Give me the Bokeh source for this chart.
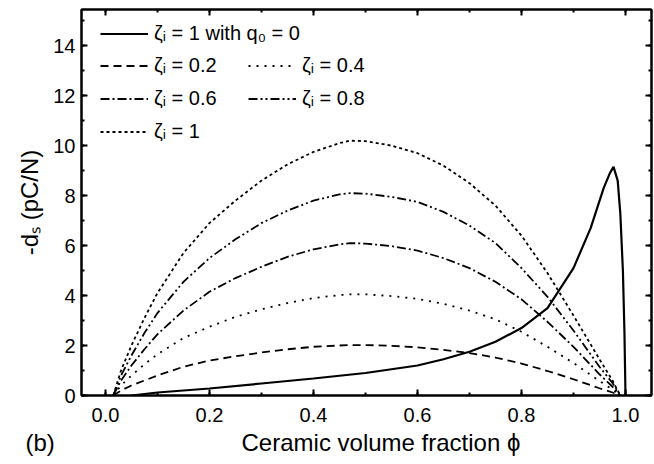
from bokeh.plotting import figure
from bokeh.models import (Range1d, LinearAxis, Legend, LegendItem, Title,
                          FixedTicker, CustomJSTickFormatter)
from bokeh.embed import file_html
from bokeh.resources import INLINE

# ---- data ----
phi = [0.015, 0.03, 0.05, 0.075, 0.1, 0.15, 0.2, 0.25, 0.3, 0.35, 0.4, 0.45,
       0.47, 0.5, 0.55, 0.6, 0.65, 0.7, 0.75, 0.8, 0.85, 0.9, 0.95, 0.975, 0.99]
d_z10 = [0, 1.0, 2.0, 3.1, 4.1, 5.7, 6.9, 7.8, 8.6, 9.25, 9.75, 10.1,
         10.2, 10.18, 10.0, 9.7, 9.2, 8.5, 7.6, 6.4, 4.9, 3.2, 1.45, 0.6, 0]
d_z08 = [0, 0.8, 1.6, 2.5, 3.3, 4.55, 5.5, 6.25, 6.9, 7.4, 7.8, 8.05,
         8.1, 8.08, 7.95, 7.75, 7.35, 6.8, 6.1, 5.1, 3.95, 2.6, 1.15, 0.5, 0]
d_z06 = [0, 0.6, 1.2, 1.85, 2.45, 3.4, 4.15, 4.7, 5.15, 5.55, 5.85, 6.05,
         6.1, 6.08, 5.98, 5.8, 5.5, 5.1, 4.55, 3.85, 2.95, 1.95, 0.85, 0.35, 0]
d_z04 = [0, 0.4, 0.8, 1.25, 1.65, 2.3, 2.75, 3.15, 3.45, 3.7, 3.9, 4.02,
         4.05, 4.05, 3.98, 3.87, 3.67, 3.4, 3.05, 2.55, 1.95, 1.3, 0.58, 0.24, 0]
d_z02 = [0, 0.2, 0.4, 0.6, 0.8, 1.15, 1.4, 1.57, 1.72, 1.85, 1.95, 2.0,
         2.02, 2.02, 1.99, 1.93, 1.83, 1.7, 1.52, 1.28, 0.98, 0.65, 0.29, 0.12, 0]

phi_q0 = [0.05, 0.1, 0.2, 0.3, 0.4, 0.5, 0.6, 0.65, 0.7, 0.75, 0.8, 0.85,
          0.875, 0.9, 0.933, 0.958, 0.97, 0.977, 0.985, 0.99, 0.995, 0.998, 1.0]
d_q0 = [0, 0.12, 0.28, 0.48, 0.68, 0.9, 1.2, 1.45, 1.75, 2.15, 2.7, 3.5,
        4.3, 5.1, 6.7, 8.3, 8.9, 9.15, 8.6, 7.3, 5.0, 2.5, 0]

x_ticks = [0.0, 0.2, 0.4, 0.6, 0.8, 1.0]
y_ticks = [0, 2, 4, 6, 8, 10, 12, 14]

panel_tag = "(b)"
x_title = "Ceramic volume fraction \u03d5"
y_title = "-d\u209b (pC/N)"

FONT = "Liberation Sans"
NB = "\u00a0"

p = figure(width=654, height=464, output_backend="svg", toolbar_location=None,
           x_range=Range1d(-0.046, 1.05), y_range=Range1d(0, 15.45),
           min_border_left=81, min_border_right=3, min_border_top=9,
           min_border_bottom=69)
p.grid.visible = False
p.background_fill_color = "white"
p.border_fill_color = "white"
p.outline_line_color = "black"
p.outline_line_width = 2

r_q0 = p.line(phi_q0, d_q0, line_color="black", line_width=2.2)
r02 = p.line(phi, d_z02, line_color="black", line_width=1.8, line_dash="8 5")
r04 = p.line(phi, d_z04, line_color="black", line_width=1.8, line_dash="2 6")
r06 = p.line(phi, d_z06, line_color="black", line_width=1.8, line_dash="9 3 2 3")
r08 = p.line(phi, d_z08, line_color="black", line_width=1.8, line_dash="9 3 2 3 2 3")
r10 = p.line(phi, d_z10, line_color="black", line_width=1.8, line_dash="3 3")

def style_axis(ax, labels=True):
    ax.axis_line_width = 2
    ax.axis_line_color = "black"
    ax.major_tick_in = 6
    ax.major_tick_out = 0
    ax.minor_tick_in = 3
    ax.minor_tick_out = 0
    ax.major_tick_line_width = 2
    ax.minor_tick_line_width = 2
    ax.major_label_text_font = FONT
    ax.major_label_text_font_size = "20px"
    ax.major_label_text_color = "black"
    ax.axis_label_text_font = FONT
    ax.axis_label_text_font_size = "24px"
    ax.axis_label_text_font_style = "normal"
    ax.axis_label_text_color = "black"
    if not labels:
        ax.major_label_text_font_size = "0px"
        ax.major_label_standoff = 0

xt = FixedTicker(ticks=x_ticks, minor_ticks=[i / 10 for i in range(0, 11)])
yt = FixedTicker(ticks=y_ticks, minor_ticks=list(range(0, 16)))

p.xaxis.ticker = xt
p.yaxis.ticker = yt
p.xaxis.formatter = CustomJSTickFormatter(code="return tick.toFixed(1);")
style_axis(p.xaxis[0])
style_axis(p.yaxis[0])
p.xaxis.major_label_standoff = 12
p.yaxis.major_label_standoff = 6
p.yaxis.axis_label = y_title
p.yaxis.axis_label_standoff = 7

# x title line: panel tag "(b)" at far left, then the axis title
p.add_layout(Title(text=panel_tag + NB * 28 + x_title, align="left", offset=-56,
                   standoff=4, text_font=FONT, text_font_size="24px",
                   text_font_style="normal", text_color="black"), "below")

top = LinearAxis(ticker=xt)
right = LinearAxis(ticker=yt)
style_axis(top, labels=False)
style_axis(right, labels=False)
p.add_layout(top, "above")
p.add_layout(right, "right")

def mk_legend(items, loc):
    lg = Legend(items=items, location=loc, orientation="vertical",
                padding=0, margin=0, spacing=10, glyph_width=48, glyph_height=23,
                label_height=23, label_standoff=6,
                label_text_font=FONT, label_text_font_size="20px",
                label_text_color="black",
                border_line_color=None, background_fill_alpha=0)
    p.add_layout(lg)

mk_legend([LegendItem(label="\u03b6\u1d62 = 1 with q\u2080 = 0", renderers=[r_q0])], (19, 350))
mk_legend([LegendItem(label="\u03b6\u1d62 = 0.2", renderers=[r02]),
           LegendItem(label="\u03b6\u1d62 = 0.6", renderers=[r06]),
           LegendItem(label="\u03b6\u1d62 = 1", renderers=[r10])], (19, 252))
mk_legend([LegendItem(label="\u03b6\u1d62 = 0.4", renderers=[r04]),
           LegendItem(label="\u03b6\u1d62 = 0.8", renderers=[r08])], (167, 285))

open("out.html", "w").write(file_html(p, INLINE))
